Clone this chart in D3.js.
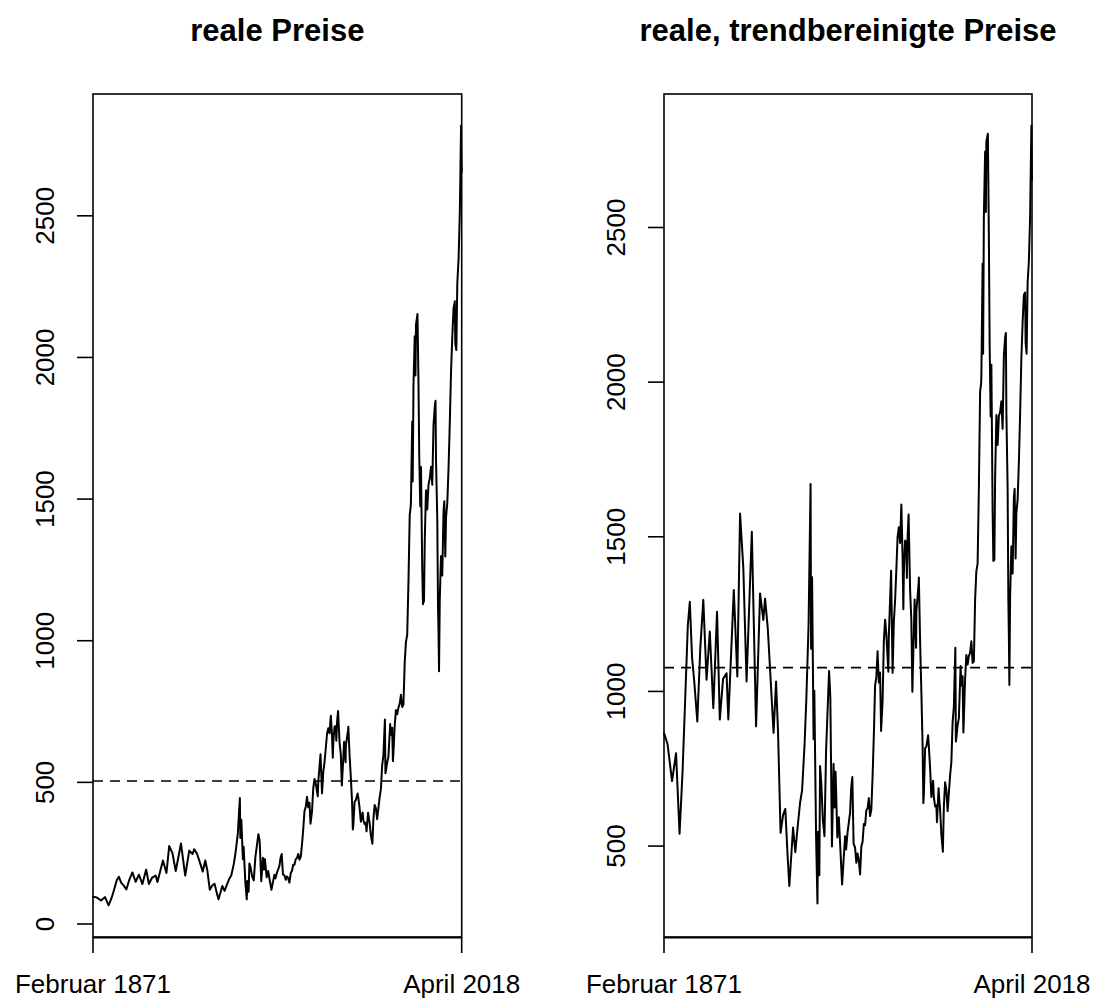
<!DOCTYPE html>
<html><head><meta charset="utf-8">
<script src="https://cdn.jsdelivr.net/npm/d3@7"></script>
<style>body{margin:0;background:#fff} svg{display:block;background:#fff}</style>
</head><body>
<svg id="chart" width="1096" height="1001"></svg>
<script>
// ---------- data ----------
const years = [
1871.1,1872.5,1874.3,1875.9,1877.3,1878.5,1879.5,1880.6,1881.4,1882.3,
1883.2,1884.4,1885.6,1886.8,1888.1,1889.4,1890.8,1892.3,1893.4,1894.7,
1896.1,1896.8,1899.0,1900.4,1901.5,1902.8,1904.1,1906.2,1907.9,1909.5,
1910.8,1911.5,1912.6,1913.9,1914.9,1915.9,1916.7,1917.7,1918.7,1919.6,
1920.5,1921.2,1922.7,1923.6,1924.5,1925.5,1926.3,1927.3,1928.0,1928.9,
1929.7,1929.9,1930.3,1930.9,1931.2,1931.9,1932.45,1932.7,1933.2,1933.5,
1934.0,1934.6,1935.25,1935.9,1937.1,1937.6,1938.25,1938.9,1939.3,1939.7,
1940.4,1941.0,1942.3,1943.5,1943.9,1944.5,1945.5,1945.95,1946.4,1946.9,
1947.5,1948.0,1948.5,1949.0,1949.5,1950.0,1950.5,1951.0,1951.5,1952.0,
1952.5,1953.0,1953.5,1954.0,1954.5,1955.0,1955.5,1956.0,1956.5,1957.0,
1957.5,1957.9,1958.5,1959.0,1959.5,1960.0,1960.8,1961.0,1961.9,1962.5,
1963.0,1963.5,1964.0,1964.5,1965.0,1965.5,1966.0,1966.5,1966.8,1967.0,
1967.5,1968.0,1968.2,1968.5,1968.9,1969.5,1970.0,1970.4,1971.0,1971.3,
1971.9,1972.0,1972.9,1973.0,1973.5,1974.0,1974.5,1974.8,1975.0,1975.5,
1976.0,1976.7,1977.0,1977.5,1978.0,1978.7,1979.0,1979.5,1980.0,1980.25,
1980.9,1981.0,1981.5,1982.0,1982.6,1983.0,1983.5,1984.0,1984.5,1985.0,
1985.5,1986.0,1986.5,1987.0,1987.6,1987.8,1988.0,1988.5,1989.0,1989.7,
1990.0,1990.5,1990.8,1991.0,1991.5,1992.0,1992.5,1993.0,1993.5,1994.0,
1994.5,1995.0,1995.5,1996.0,1996.5,1997.0,1997.5,1997.9,1998.0,1998.5,
1998.7,1999.0,1999.5,1999.8,2000.0,2000.6,2001.0,2001.3,2001.7,2002.0,
2002.5,2002.8,2003.0,2003.2,2003.5,2004.0,2004.5,2005.0,2005.5,2006.0,
2006.5,2007.0,2007.5,2007.8,2008.0,2008.5,2008.8,2009.0,2009.2,2009.5,
2010.0,2010.5,2011.0,2011.3,2011.7,2012.0,2012.5,2013.0,2013.5,2014.0,
2014.5,2015.0,2015.5,2015.7,2016.1,2016.5,2017.0,2017.5,2018.0,2018.1,
2018.25];

const realPrices = [
96,94,83,95,66,92,121,155,167,146,
137,122,157,182,149,174,141,192,141,164,
171,148,224,180,275,250,187,284,171,259,
247,264,248,213,185,224,190,121,136,142,
109,87,134,117,138,160,172,213,253,320,
445,304,368,229,273,146,87,152,114,214,
199,168,154,236,317,294,151,234,192,229,
165,187,121,174,161,181,205,234,247,175,
172,156,168,161,146,180,187,209,209,229,
233,247,227,237,280,334,399,413,449,412,
428,354,397,480,512,496,451,502,599,461,
537,571,620,672,691,673,735,663,587,643,
697,698,647,713,752,641,598,489,588,643,
571,630,685,696,595,517,428,334,349,431,
437,461,444,409,361,394,366,352,357,327,
393,383,357,312,283,370,420,409,370,408,
447,476,560,596,722,532,541,571,590,706,
668,693,575,606,699,755,740,764,777,809,
766,775,923,996,1021,1206,1444,1473,1494,1774,
1562,1903,2075,1936,2115,2153,1910,1654,1475,1613,
1253,1129,1234,1138,1353,1531,1463,1551,1573,1614,
1551,1762,1826,1847,1635,1432,1120,1028,892,1148,
1299,1230,1458,1492,1297,1436,1487,1610,1769,1951,
2074,2174,2198,2048,2026,2262,2347,2511,2819,2716,
2654];

const detrendedPrices = [
865,830,710,800,540,740,962,1212,1290,1110,
1030,903,1140,1296,1038,1194,946,1258,909,1040,
1059,909,1328,1048,1575,1400,1032,1516,887,1317,
1231,1300,1202,1013,866,1032,866,543,600,620,
470,371,560,480,560,640,680,829,974,1216,
1671,1138,1369,845,1002,530,314,546,406,759,
701,586,532,808,1066,981,499,766,625,740,
528,593,376,532,489,545,608,689,723,508,
495,446,476,453,408,499,514,571,567,616,
622,655,597,619,726,859,1019,1047,1130,1029,
1061,872,969,1163,1232,1184,1064,1181,1390,1060,
1226,1294,1394,1500,1531,1480,1604,1436,1266,1383,
1488,1479,1367,1499,1572,1328,1230,999,1191,1297,
1141,1257,1349,1368,1161,1001,823,639,666,816,
822,858,822,752,659,711,658,628,632,577,
687,668,618,536,482,627,706,682,613,671,
729,771,900,951,1141,838,850,891,913,1082,
1019,1049,867,911,1042,1118,1087,1114,1125,1162,
1092,1097,1297,1389,1413,1657,1969,1996,2022,2383,
2092,2537,2746,2550,2778,2803,2472,2131,1889,2056,
1585,1422,1550,1425,1687,1894,1797,1891,1903,1938,
1849,2085,2144,2159,1905,1657,1290,1180,1021,1308,
1469,1381,1625,1655,1430,1577,1620,1741,1899,2079,
2193,2282,2290,2127,2092,2322,2391,2539,2829,2722,
2654];

const meanLines = [505, 1077];
const titles = ["reale Preise", "reale, trendbereinigte Preise"];
const xTickYears = [1871.083, 2018.25];
const xTickLabels = ["Februar 1871", "April 2018"];
const leftYTicks = [0, 500, 1000, 1500, 2000, 2500];
const rightYTicks = [500, 1000, 1500, 2000, 2500];

// ---------- layout ----------
const FONT = "'Liberation Sans', Arial, Helvetica, sans-serif";
const plotTop = 94, plotBottom = 937;
const panels = [
  {title: titles[0], values: realPrices, mean: meanLines[0], ticks: leftYTicks,
   x0: 93, x1: 461.7, yDomain: [-45.9, 2930]},
  {title: titles[1], values: detrendedPrices, mean: meanLines[1], ticks: rightYTicks,
   x0: 664, x1: 1032, yDomain: [206, 2931.6]}
];

const svg = d3.select("#chart");

panels.forEach(p => {
  const x = d3.scaleLinear().domain([xTickYears[0], xTickYears[1]]).range([p.x0, p.x1]);
  const y = d3.scaleLinear().domain(p.yDomain).range([plotBottom, plotTop]);
  const g = svg.append("g");

  // series line
  const pts = years.map((t, i) => [t, p.values[i]]);
  g.append("path")
    .datum(pts)
    .attr("fill", "none")
    .attr("stroke", "#000")
    .attr("stroke-width", 2)
    .attr("stroke-linejoin", "round")
    .attr("stroke-linecap", "round")
    .attr("d", d3.line().x(d => x(d[0])).y(d => y(d[1])));

  // dashed mean line
  g.append("line")
    .attr("x1", p.x0).attr("x2", p.x1)
    .attr("y1", y(p.mean)).attr("y2", y(p.mean))
    .attr("stroke", "#000").attr("stroke-width", 1.6)
    .attr("stroke-dasharray", "10,7");

  // box
  g.append("rect")
    .attr("x", p.x0).attr("y", plotTop)
    .attr("width", p.x1 - p.x0).attr("height", plotBottom - plotTop)
    .attr("fill", "none").attr("stroke", "#000").attr("stroke-width", 1.6);
  // x axis line (thicker bottom)
  g.append("line")
    .attr("x1", x(xTickYears[0])).attr("x2", x(xTickYears[1]))
    .attr("y1", plotBottom + 0.6).attr("y2", plotBottom + 0.6)
    .attr("stroke", "#000").attr("stroke-width", 1.6);

  // y axis ticks + rotated labels
  p.ticks.forEach(v => {
    const yy = y(v);
    g.append("line")
      .attr("x1", p.x0 - 16).attr("x2", p.x0)
      .attr("y1", yy).attr("y2", yy)
      .attr("stroke", "#000").attr("stroke-width", 1.6);
    g.append("text")
      .attr("transform", `translate(${p.x0 - 39},${yy}) rotate(-90)`)
      .attr("text-anchor", "middle")
      .attr("font-family", FONT)
      .attr("font-size", 26)
      .attr("fill", "#000")
      .text(String(v));
  });

  // x axis ticks + labels
  xTickYears.forEach((t, i) => {
    const xx = x(t);
    g.append("line")
      .attr("x1", xx).attr("x2", xx)
      .attr("y1", plotBottom).attr("y2", plotBottom + 16)
      .attr("stroke", "#000").attr("stroke-width", 1.6);
    g.append("text")
      .attr("x", xx).attr("y", 993)
      .attr("text-anchor", "middle")
      .attr("font-family", FONT)
      .attr("font-size", 26)
      .attr("fill", "#000")
      .text(xTickLabels[i]);
  });

  // title
  g.append("text")
    .attr("x", (p.x0 + p.x1) / 2).attr("y", 41)
    .attr("text-anchor", "middle")
    .attr("font-family", FONT)
    .attr("font-size", 31)
    .attr("font-weight", "bold")
    .attr("fill", "#000")
    .text(p.title);
});
</script>
</body></html>
